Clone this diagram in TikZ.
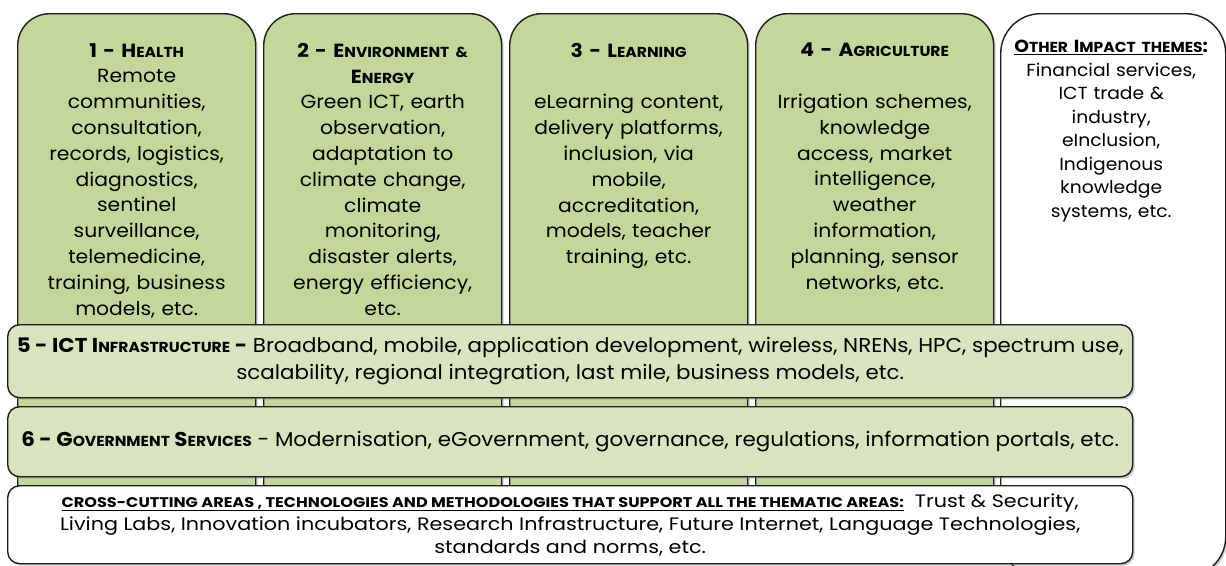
\documentclass[tikz,border=0pt]{standalone}
\usepackage{fontspec}
\setmainfont{Poppins}[FakeStretch=1.07]
\newfontfamily\widefont{Poppins}[FakeStretch=1.15]
\usetikzlibrary{shadows,positioning}

\definecolor{colgreen}{RGB}{196,215,155}
\definecolor{bandgreen}{RGB}{216,228,189}
\definecolor{edgegrey}{RGB}{30,30,30}

\newcommand\smc[1]{{\fontsize{14.5}{14.5}\selectfont #1}}
\newcommand\tinycaps[1]{{\fontsize{14}{14}\selectfont #1}}

\tikzset{
  theme/.style={draw=edgegrey, line width=1.4pt, fill=colgreen, rounded corners=32pt,
    minimum width=238pt, minimum height=530pt, anchor=north west, inner sep=0pt,
    drop shadow={shadow xshift=2pt, shadow yshift=-2pt, opacity=.35}},
  othertheme/.style={theme, fill=white, rounded corners=40pt, drop shadow={opacity=0}},
  band/.style={draw=edgegrey, line width=1.4pt, fill=bandgreen, rounded corners=12pt,
    minimum width=1125pt, anchor=north west, inner sep=0pt,
    drop shadow={shadow xshift=2pt, shadow yshift=-2pt, opacity=.4}},
  crossband/.style={band, fill=white},
  coltext/.style={anchor=north, align=center, text width=236pt, inner sep=0pt,
    font=\fontsize{19}{25.8}\selectfont},
  bandtext/.style={align=center, font=\fontsize{20}{27}\selectfont},
}

\begin{document}
\begin{tikzpicture}[x=1pt,y=-1pt]
  \useasboundingbox (0,0) rectangle (1226,565);
  \fill[white] (0,0) rectangle (1226,565);

  % thematic columns
  \node[othertheme, minimum width=225pt, minimum height=563pt] (other) at (1000,13) {};
  \node[theme] (health) at (17,13) {};
  \node[theme] (environ) at (263,13) {};
  \node[theme] (learning) at (509,13) {};
  \node[theme] (agri) at (755,13) {};

  \node[coltext] (healthtxt) at ([yshift=-30pt]health.north)
    {\textbf{1 - H\smc{EALTH}}\\ Remote\\ communities,\\ consultation,\\ records, logistics,\\
     diagnostics,\\ sentinel\\ surveillance,\\ telemedicine,\\ training, business\\ models, etc.};
  \node[coltext] (environtxt) at ([yshift=-30pt]environ.north)
    {\textbf{2 - E\smc{NVIRONMENT \&}}\\ \textbf{E\smc{NERGY}}\\ Green ICT, earth\\ observation,\\
     adaptation to\\ climate change,\\ climate\\ monitoring,\\ disaster alerts,\\ energy efficiency,\\ etc.};
  \node[coltext] (learningtxt) at ([yshift=-30pt]learning.north)
    {\textbf{3 - L\smc{EARNING}}\\[25.8pt] eLearning content,\\ delivery platforms,\\ inclusion, via\\
     mobile,\\ accreditation,\\ models, teacher\\ training, etc.};
  \node[coltext] (agritxt) at ([yshift=-30pt]agri.north)
    {\textbf{4 - A\smc{GRICULTURE}}\\[25.8pt] Irrigation schemes,\\ knowledge\\ access, market\\
     intelligence,\\ weather\\ information,\\ planning, sensor\\ networks, etc.};
  \node[coltext, text width=222pt, font=\fontsize{17.5}{23.5}\selectfont] (othertxt)
    at ([xshift=-2pt, yshift=-27pt]other.north)
    {\underline{\textbf{O\smc{THER} I\smc{MPACT THEMES}}}\textbf{:}\\ Financial services,\\ ICT trade \&\\
     industry,\\ eInclusion,\\ Indigenous\\ knowledge\\ systems, etc.};

  % horizontal layers
  \node[band, minimum height=73pt] (infra) at (7,324) {};
  \node[bandtext] (infratxt) at (infra.center)
    {\textbf{5 - ICT I\smc{NFRASTRUCTURE} -} Broadband, mobile, application development, wireless, NRENs, HPC, spectrum use,\\
     scalability, regional integration, last mile, business models, etc.};
  \node[band, minimum height=70pt] (gov) at (7,406) {};
  \node[bandtext] (govtxt) at (gov.center)
    {\textbf{6 - G\smc{OVERNMENT} S\smc{ERVICES}} - Modernisation, eGovernment, governance, regulations, information portals, etc.};
  \node[crossband, minimum height=78pt] (cross) at (7,485) {};
  \node[bandtext, font=\widefont\fontsize{18}{23.2}\selectfont] (crosstxt) at (cross.center)
    {\underline{\textbf{\tinycaps{CROSS-CUTTING AREAS , TECHNOLOGIES AND METHODOLOGIES THAT SUPPORT ALL THE THEMATIC AREAS:}}}\ \ Trust \& Security,\\
     Living Labs, Innovation incubators, Research Infrastructure, Future Internet, Language Technologies,\\
     standards and norms, etc.};
\end{tikzpicture}
\end{document}
